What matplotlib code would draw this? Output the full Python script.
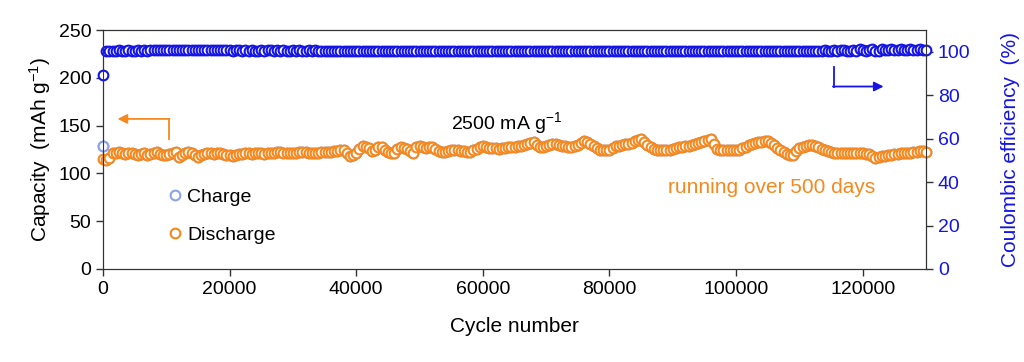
import matplotlib.pyplot as plt
import numpy as np

plt.rcParams['font.family'] = ['Liberation Sans', 'DejaVu Sans']
plt.rcParams['mathtext.fontset'] = 'custom'
plt.rcParams['mathtext.rm'] = 'Liberation Sans'
plt.rcParams['mathtext.it'] = 'Liberation Sans:italic'

# cycle number, every 500 cycles
cycles = np.arange(0, 130500, 500)

# discharge capacity (mAh g-1)
discharge = [115, 114, 116, 121, 121, 122, 121, 120, 121, 121,
             120, 119, 120, 121, 119, 120, 121, 122, 120, 119,
             119, 120, 121, 122, 117, 119, 121, 122, 121, 119,
             117, 119, 120, 121, 121, 120, 121, 121, 120, 119,
             119, 118, 119, 120, 120, 121, 121, 120, 121, 121,
             121, 120, 121, 121, 121, 122, 122, 121, 121, 121,
             121, 121, 122, 122, 122, 121, 121, 121, 121, 122,
             122, 122, 122, 123, 123, 124, 124, 121, 118, 119,
             121, 126, 129, 128, 127, 123, 125, 128, 128, 124,
             122, 121, 121, 126, 128, 127, 126, 123, 121, 128,
             129, 128, 127, 128, 128, 126, 123, 122, 122, 123,
             124, 125, 124, 123, 123, 122, 122, 124, 126, 128,
             129, 128, 127, 127, 127, 126, 127, 127, 128, 128,
             128, 129, 129, 130, 131, 132, 133, 130, 128, 128,
             129, 130, 131, 131, 130, 129, 129, 128, 128, 129,
             130, 132, 134, 133, 131, 129, 127, 125, 124, 124,
             125, 127, 129, 129, 130, 131, 131, 132, 134, 135,
             136, 133, 130, 128, 126, 125, 124, 124, 124, 125,
             126, 127, 128, 128, 129, 129, 130, 131, 132, 133,
             134, 135, 136, 131, 126, 125, 124, 124, 124, 124,
             124, 125, 127, 128, 130, 131, 132, 133, 133, 134,
             134, 132, 130, 127, 124, 122, 120, 119, 119, 123,
             127, 128, 129, 130, 130, 129, 128, 126, 125, 123,
             122, 121, 121, 121, 121, 121, 121, 121, 121, 121,
             121, 120, 120, 118, 116, 117, 118, 118, 119, 119,
             120, 120, 121, 121, 121, 121, 122, 122, 123, 123,
             122]

# charge capacity: only the first point differs visibly, the rest lies under discharge
charge = [129] + discharge[1:]

# coulombic efficiency (%)
ce = [89.5, 100.2, 100.4, 100.5, 100.5, 100.6, 100.5, 100.5, 100.6, 100.5,
      100.5, 100.6, 100.5, 100.6, 100.5, 100.7, 100.6, 100.6, 100.7, 100.6,
      100.6, 100.7, 100.6, 100.6, 100.7, 100.6, 100.6, 100.7, 100.6, 100.6,
      100.6, 100.7, 100.6, 100.6, 100.7, 100.6, 100.6, 100.6, 100.6, 100.6,
      100.6, 100.5, 100.6, 100.6, 100.5, 100.6, 100.5, 100.6, 100.5, 100.5,
      100.6, 100.5, 100.6, 100.6, 100.5, 100.6, 100.5, 100.6, 100.5, 100.5,
      100.6, 100.5, 100.6, 100.5, 100.5, 100.6, 100.5, 100.6, 100.5, 100.5,
      100.4, 100.5, 100.5, 100.4, 100.5, 100.5, 100.4, 100.5, 100.5, 100.4,
      100.4, 100.3, 100.4, 100.4, 100.3, 100.4, 100.4, 100.3, 100.4, 100.4,
      100.5, 100.4, 100.5, 100.5, 100.4, 100.5, 100.5, 100.4, 100.5, 100.5,
      100.5, 100.4, 100.5, 100.5, 100.5, 100.4, 100.5, 100.5, 100.5, 100.5,
      100.5, 100.5, 100.4, 100.5, 100.5, 100.5, 100.5, 100.4, 100.5, 100.5,
      100.5, 100.5, 100.5, 100.5, 100.4, 100.5, 100.5, 100.5, 100.5, 100.5,
      100.5, 100.4, 100.5, 100.5, 100.5, 100.5, 100.5, 100.5, 100.4, 100.5,
      100.5, 100.5, 100.5, 100.5, 100.5, 100.5, 100.5, 100.5, 100.5, 100.5,
      100.5, 100.5, 100.5, 100.5, 100.5, 100.5, 100.5, 100.5, 100.5, 100.5,
      100.5, 100.5, 100.5, 100.5, 100.5, 100.5, 100.5, 100.5, 100.5, 100.5,
      100.5, 100.5, 100.5, 100.5, 100.5, 100.5, 100.5, 100.5, 100.5, 100.5,
      100.5, 100.5, 100.5, 100.5, 100.5, 100.5, 100.5, 100.5, 100.5, 100.5,
      100.5, 100.5, 100.5, 100.5, 100.5, 100.5, 100.5, 100.5, 100.5, 100.5,
      100.4, 100.4, 100.4, 100.4, 100.4, 100.4, 100.4, 100.4, 100.4, 100.4,
      100.4, 100.4, 100.4, 100.4, 100.4, 100.4, 100.4, 100.4, 100.4, 100.4,
      100.4, 100.4, 100.4, 100.4, 100.4, 100.5, 100.4, 100.5, 100.6, 100.4,
      100.5, 100.9, 100.3, 100.6, 101.0, 100.5, 100.4, 100.8, 100.3, 101.1,
      100.6, 100.5, 100.9, 101.2, 100.4, 100.5, 101.3, 100.8, 100.6, 101.2,
      100.7, 100.6, 101.4, 100.9, 100.6, 101.3, 101.0, 100.7, 101.4, 100.9,
      100.8]

orange = '#F5891F'
blue = '#1414E6'
light_blue = '#8EA2E6'

fig, ax = plt.subplots(figsize=(10.24, 3.62), dpi=100)
fig.subplots_adjust(left=0.1006, right=0.9043, bottom=0.257, top=0.917)

ax.plot(cycles, charge, 'o', ms=7, mfc='white', mec=light_blue, mew=1.5,
        label='Charge', clip_on=False, zorder=3)
ax.plot(cycles, discharge, 'o', ms=7, mfc='white', mec=orange, mew=1.5,
        label='Discharge', clip_on=False, zorder=4)
# keep the first charge point visible on top
ax.plot(cycles[:1], charge[:1], 'o', ms=7, mfc='white', mec=light_blue, mew=1.5,
        clip_on=False, zorder=5)

ax.set_xlim(0, 130000)
ax.set_ylim(0, 250)
ax.set_xticks(range(0, 130000, 20000))
ax.set_yticks(range(0, 251, 50))
ax.set_xlabel('Cycle number', fontsize=15, labelpad=14)
ax.set_ylabel('Capacity  (mAh g$^{-1}$)', fontsize=15, labelpad=4)
ax.tick_params(axis='both', labelsize=14, direction='out', length=5, width=1, color='#333333')
for s in ax.spines.values():
    s.set_color('#333333')

ax2 = ax.twinx()
ax2.plot(cycles, ce, 'o', ms=7, mfc='white', mec=blue, mew=1.5, clip_on=False)
ax2.set_ylim(0, 110)
ax2.set_yticks(range(0, 101, 20))
ax2.set_ylabel('Coulombic efficiency  (%)', fontsize=15, color=blue, labelpad=22)
ax2.tick_params(axis='y', labelsize=14, colors=blue, direction='out', length=5, width=1)
ax2.tick_params(axis='y', color='#333333')
for s in ax2.spines.values():
    s.set_color('#333333')

# arrows pointing at the axes
ax.plot([10400, 10400], [136, 157], color=orange, lw=1.3)
ax.annotate('', xy=(2300, 157), xytext=(10500, 157),
            arrowprops=dict(arrowstyle='-|>', color=orange, lw=1.3, mutation_scale=14,
                            shrinkA=0, shrinkB=0))
ax2.plot([115400, 115400], [92.8, 84], color=blue, lw=1.3)
ax2.annotate('', xy=(123300, 84), xytext=(115300, 84),
             arrowprops=dict(arrowstyle='-|>', color=blue, lw=1.3, mutation_scale=14,
                             shrinkA=0, shrinkB=0))

ax.text(0.49, 0.61, '2500 mA g$^{-1}$', transform=ax.transAxes, fontsize=14,
        ha='center', va='center')
ax.text(0.812, 0.34, 'running over 500 days', transform=ax.transAxes, fontsize=15,
        color=orange, ha='center', va='center')

ax.legend(loc='center left', bbox_to_anchor=(0.054, 0.22), frameon=False, fontsize=14,
          numpoints=1, handlelength=1.0, handletextpad=0.15, labelspacing=1.05)

fig.savefig('out.png', dpi=100)
